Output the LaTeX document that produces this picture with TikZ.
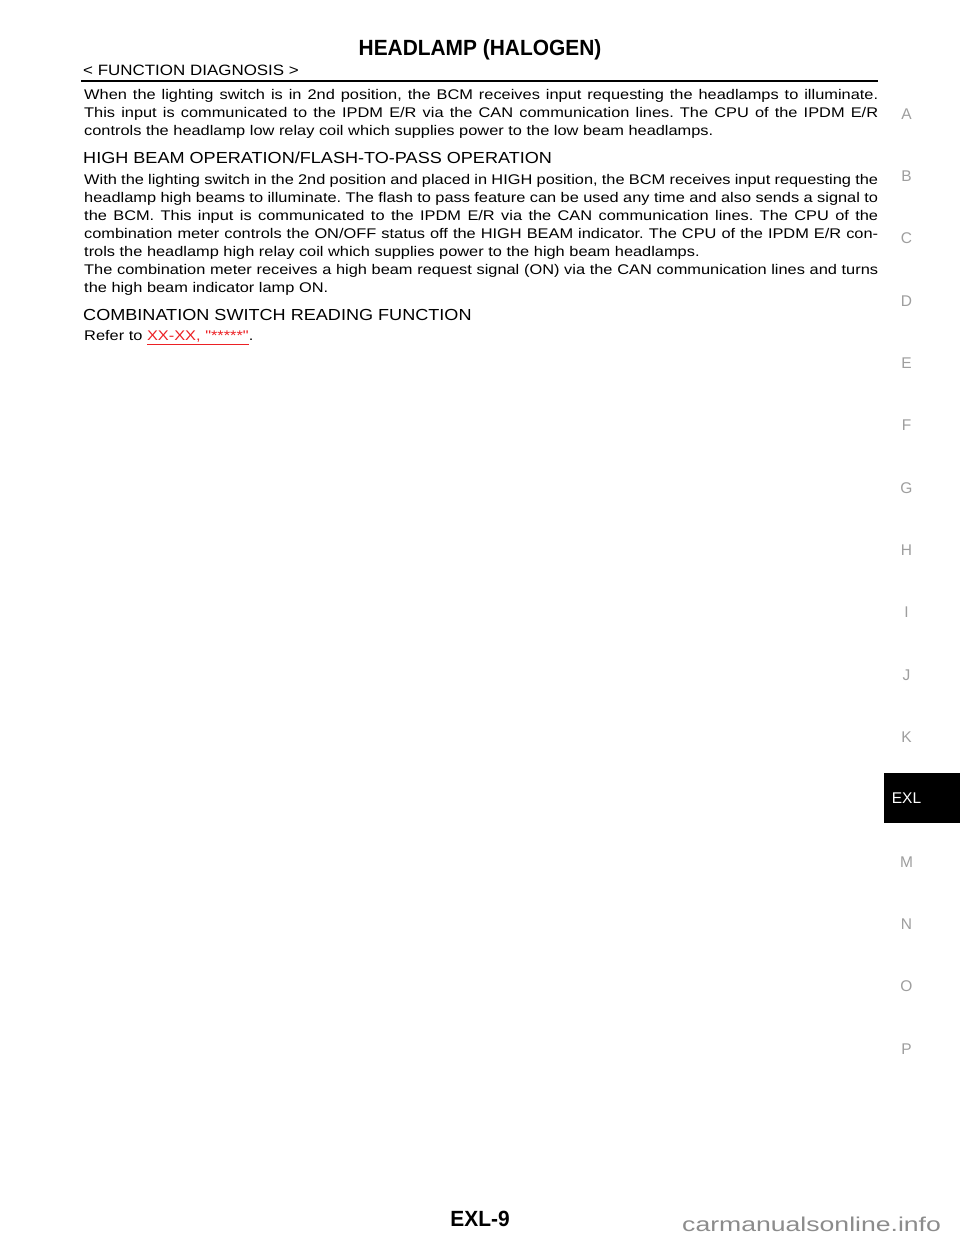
\documentclass[tikz,border=0pt]{standalone}
\usepackage{fontspec}
\usepackage{tikz}
\usetikzlibrary{positioning}
\newfontfamily\bodyfont{Liberation Sans}[FakeStretch=1.17,Ligatures=TeXOff]
\newfontfamily\headfont{Liberation Sans}[FakeStretch=1.13]
\newfontfamily\titlefont{Liberation Sans}[FakeStretch=0.95]
\newfontfamily\tabfont{Liberation Sans}
\newfontfamily\markfont{Liberation Sans}[FakeStretch=1.33]
\definecolor{tabgray}{gray}{0.62}
\definecolor{markgray}{gray}{0.55}
\definecolor{linkred}{RGB}{236,32,36}
\frenchspacing
\tikzset{
  bodytext/.style={anchor=base west, inner sep=0pt, text width=794pt, align=justify,
    font=\bodyfont\fontsize{14}{18}\selectfont},
  heading/.style={anchor=base west, inner sep=0pt, font=\headfont\fontsize{16}{18}\selectfont},
  tabletter/.style={inner sep=0pt, text=tabgray, font=\tabfont\fontsize{15.5}{18}\selectfont},
  pagetitle/.style={anchor=base, inner sep=0pt, font=\titlefont\bfseries\fontsize{22}{24}\selectfont}
}

\begin{document}
\begin{tikzpicture}[x=1pt,y=-1pt]
\fill[white] (0,0) rectangle (960,1242);
\useasboundingbox (0,0) rectangle (960,1242);

% page head
\node[pagetitle] (title) at (480,55) {HEADLAMP (HALOGEN)};
\node[heading, font=\headfont\fontsize{15}{18}\selectfont] (section) at (83,75.7) {< FUNCTION DIAGNOSIS >};
\coordinate (ruleL) at (81,81);
\coordinate (ruleR) at (878,81);
\draw[line width=2pt] (ruleL) -- (ruleR);

% text
\node[bodytext] (lowtext) at (84,99) {When the lighting switch is in 2nd position, the BCM receives input requesting the headlamps to illuminate.\linebreak
This input is communicated to the IPDM E/R via the CAN communication lines. The CPU of the IPDM E/R\linebreak
controls the headlamp low relay coil which supplies power to the low beam headlamps.};

\node[heading] (highhead) at (83,163.5) {HIGH BEAM OPERATION/FLASH-TO-PASS OPERATION};
\node[bodytext] (hightext) at (84,184) {With the lighting switch in the 2nd position and placed in HIGH position, the BCM receives input requesting the\linebreak
headlamp high beams to illuminate. The flash to pass feature can be used any time and also sends a signal to\linebreak
the BCM. This input is communicated to the IPDM E/R via the CAN communication lines. The CPU of the\linebreak
combination meter controls the ON/OFF status off the HIGH BEAM indicator. The CPU of the IPDM E/R con-\linebreak
trols the headlamp high relay coil which supplies power to the high beam headlamps.\par
The combination meter receives a high beam request signal (ON) via the CAN communication lines and turns\linebreak
the high beam indicator lamp ON.};

\node[heading] (combhead) at (83,320.7) {COMBINATION SWITCH READING FUNCTION};
\node[bodytext] (refer) at (84,340.7) {Refer to \textcolor{linkred}{\underline{XX-XX, "*****"}}.};

% side tabs
\foreach \tab [count=\i from 0] in {A,B,C,D,E,F,G,H,I,J,K}
  \node[tabletter] (tab\tab) at (906.5,{114+62.33*\i}) {\tab};
\node[fill=black, inner sep=0pt, minimum width=76pt, minimum height=50pt, anchor=north west] (tabbox) at (884,773) {};
\node[tabletter, text=white] (tabEXL) at (906.5,798) {EXL};
\foreach \tab [count=\i from 12] in {M,N,O,P}
  \node[tabletter] (tab\tab) at (906.5,{114+62.33*\i}) {\tab};

% page foot
\node[pagetitle] (pagenum) at (480,1226) {EXL-9};
\node[anchor=base west, inner sep=0pt, text=markgray, font=\markfont\fontsize{20}{24}\selectfont] (mark) at (682,1231) {carmanualsonline.info};
\end{tikzpicture}
\end{document}
